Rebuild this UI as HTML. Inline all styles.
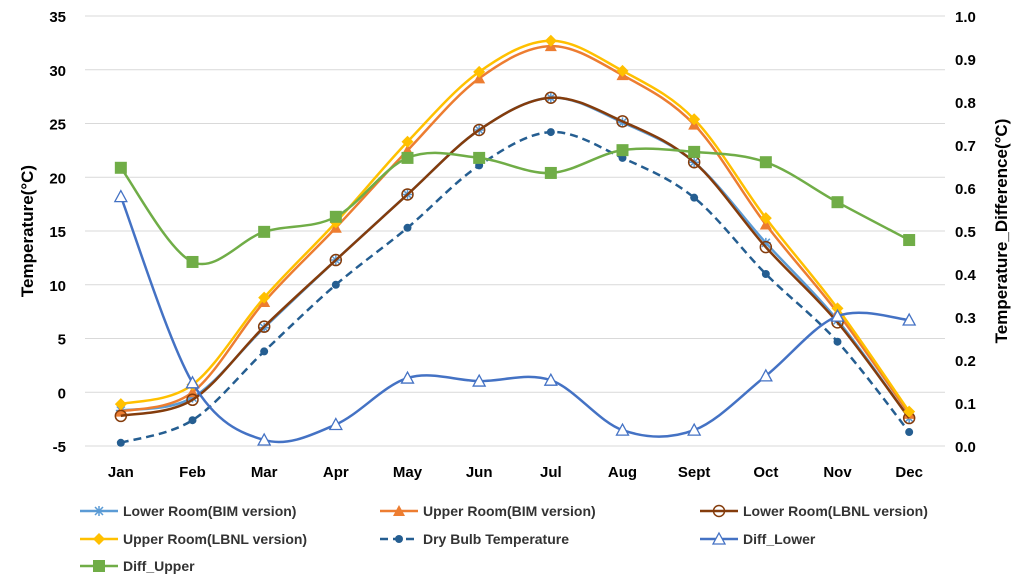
<!DOCTYPE html>
<html><head><meta charset="utf-8"><style>
html,body{margin:0;padding:0;background:#fff;}
svg{display:block;font-family:"Liberation Sans",Arial,sans-serif;}
</style></head><body>
<svg id="chart" width="1024" height="582">
<g id="grid"></g>
<g id="axes"></g>
<g id="series"></g>
<g id="legend"></g>
</svg>
<script>
const months=["Jan","Feb","Mar","Apr","May","Jun","Jul","Aug","Sept","Oct","Nov","Dec"];
const leftTicks=[-5,0,5,10,15,20,25,30,35];
const rightTicks=[0.0,0.1,0.2,0.3,0.4,0.5,0.6,0.7,0.8,0.9,1.0];
const lowerBIM=[-1.7,-0.5,6.0,12.3,18.4,24.4,27.4,25.1,21.4,13.9,6.7,-2.4];
const upperBIM=[-1.8,0.0,8.4,15.3,22.5,29.2,32.2,29.5,24.9,15.6,7.4,-2.0];
const lowerLBNL=[-2.2,-0.7,6.1,12.3,18.4,24.4,27.4,25.2,21.4,13.5,6.5,-2.4];
const upperLBNL=[-1.1,0.7,8.8,15.8,23.3,29.8,32.7,29.9,25.4,16.2,7.8,-1.8];
const dryBulb=[-4.7,-2.6,3.8,10.0,15.3,21.1,24.2,21.8,18.1,11.0,4.7,-3.7];
const diffLower=[0.58,0.147,0.014,0.05,0.158,0.151,0.153,0.037,0.037,0.163,0.302,0.293];
const diffUpper=[0.647,0.428,0.498,0.533,0.67,0.67,0.635,0.688,0.684,0.66,0.567,0.479];

const NS="http://www.w3.org/2000/svg";
const X0=85,X1=945,YT=16,YB=446;
const xs=i=>X0+(X1-X0)/12*(i+0.5);
const yL=v=>YB-(v+5)/40*(YB-YT);
const yR=v=>YB-v*(YB-YT);
function mk(tag,attrs,parent){const e=document.createElementNS(NS,tag);for(const k in attrs)e.setAttribute(k,attrs[k]);parent.appendChild(e);return e;}
const grid=document.getElementById('grid'),axes=document.getElementById('axes'),ser=document.getElementById('series'),leg=document.getElementById('legend');
leftTicks.forEach(t=>{
  const l=mk('line',{x1:X0,x2:X1,y1:yL(t),y2:yL(t),stroke:'#d9d9d9','stroke-width':1},grid);
  
  
  const tx=mk('text',{x:66,y:yL(t)+6,'text-anchor':'end','font-size':15,'font-weight':'bold',fill:'#000'},axes);
  tx.textContent=t;
  
  
});
rightTicks.forEach(t=>{
  const tx=mk('text',{x:955,y:yR(t)+6,'font-size':15,'font-weight':'bold',fill:'#000'},axes);
  tx.textContent=t.toFixed(1);
  
  
});
months.forEach((m,i)=>{
  const tx=mk('text',{x:xs(i),y:477,'text-anchor':'middle','font-size':15,'font-weight':'bold',fill:'#000'},axes);
  tx.textContent=m;
  
  
});
let t1=mk('text',{transform:'translate(33,231) rotate(-90)','text-anchor':'middle','font-size':17,'font-weight':'bold'},axes);
t1.textContent='Temperature(°C)';


let t2=mk('text',{transform:'translate(1007,231) rotate(-90)','text-anchor':'middle','font-size':17,'font-weight':'bold'},axes);
t2.textContent='Temperature_Difference(°C)';



function smooth(pts){
  let d=`M${pts[0][0]},${pts[0][1]}`;
  for(let i=0;i<pts.length-1;i++){
    const p0=pts[i-1]||pts[i],p1=pts[i],p2=pts[i+1],p3=pts[i+2]||p2,k=1/6;
    d+=` C${p1[0]+(p2[0]-p0[0])*k},${p1[1]+(p2[1]-p0[1])*k} ${p2[0]-(p3[0]-p1[0])*k},${p2[1]-(p3[1]-p1[1])*k} ${p2[0]},${p2[1]}`;
  }
  return d;
}
function marker(type,x,y,color,g){
  let e;
  if(type==='star'){e=mk('path',{d:`M${x-5},${y}h10M${x},${y-5}v10M${x-4},${y-4}l8,8M${x-4},${y+4}l8,-8`,stroke:color,'stroke-width':1.5,fill:'none'},g);}
  else if(type==='tri'){e=mk('path',{d:`M${x},${y-6}L${x+6},${y+5}L${x-6},${y+5}Z`,fill:color},g);}
  else if(type==='otri'){e=mk('path',{d:`M${x},${y-6}L${x+6},${y+5}L${x-6},${y+5}Z`,fill:'#fff',stroke:color,'stroke-width':1.3},g);}
  else if(type==='ocirc'){e=mk('circle',{cx:x,cy:y,r:5.5,fill:'none',stroke:color,'stroke-width':1.5},g);}
  else if(type==='diam'){e=mk('path',{d:`M${x},${y-6}L${x+6},${y}L${x},${y+6}L${x-6},${y}Z`,fill:color},g);}
  else if(type==='dot'){e=mk('circle',{cx:x,cy:y,r:4,fill:color},g);}
  else if(type==='sq'){e=mk('rect',{x:x-6,y:y-6,width:12,height:12,fill:color},g);}
  
  
}
const S=[
 {name:'Lower Room(BIM version)',data:lowerBIM,ax:yL,color:'#5b9bd5',m:'star',dash:null,id:'lower-bim'},
 {name:'Upper Room(BIM version)',data:upperBIM,ax:yL,color:'#ed7d31',m:'tri',dash:null,id:'upper-bim'},
 {name:'Lower Room(LBNL version)',data:lowerLBNL,ax:yL,color:'#843c0c',m:'ocirc',dash:null,id:'lower-lbnl'},
 {name:'Upper Room(LBNL version)',data:upperLBNL,ax:yL,color:'#ffc000',m:'diam',dash:null,id:'upper-lbnl'},
 {name:'Dry  Bulb Temperature',data:dryBulb,ax:yL,color:'#255e91',m:'dot',dash:'8,5',id:'dry-bulb'},
 {name:'Diff_Lower',data:diffLower,ax:yR,color:'#4472c4',m:'otri',dash:null,id:'diff-lower'},
 {name:'Diff_Upper',data:diffUpper,ax:yR,color:'#70ad47',m:'sq',dash:null,id:'diff-upper'}
];
S.forEach(s=>{
  const g=mk('g',{},ser);
  
  
  const pts=s.data.map((v,i)=>[xs(i),s.ax(v)]);
  const p=mk('path',{d:smooth(pts),fill:'none',stroke:s.color,'stroke-width':2.5},g);
  if(s.dash)p.setAttribute('stroke-dasharray',s.dash);
  
  
  pts.forEach(q=>marker(s.m,q[0],q[1],s.color,g));
});
const legPos=[[80,511],[380,511],[700,511],[80,539],[380,539],[700,539],[80,566]];
S.forEach((s,i)=>{
  const [x,y]=legPos[i];
  const g=mk('g',{},leg);
  
  
  const l=mk('line',{x1:x,x2:x+38,y1:y,y2:y,stroke:s.color,'stroke-width':2.5},g);
  if(s.dash)l.setAttribute('stroke-dasharray','8,5');
  marker(s.m,x+19,y,s.color,g);
  const t=mk('text',{x:x+43,y:y+5,'font-size':14,'font-weight':'bold',fill:'#333'},g);
  t.textContent=s.name;
});
</script>
</body></html>
